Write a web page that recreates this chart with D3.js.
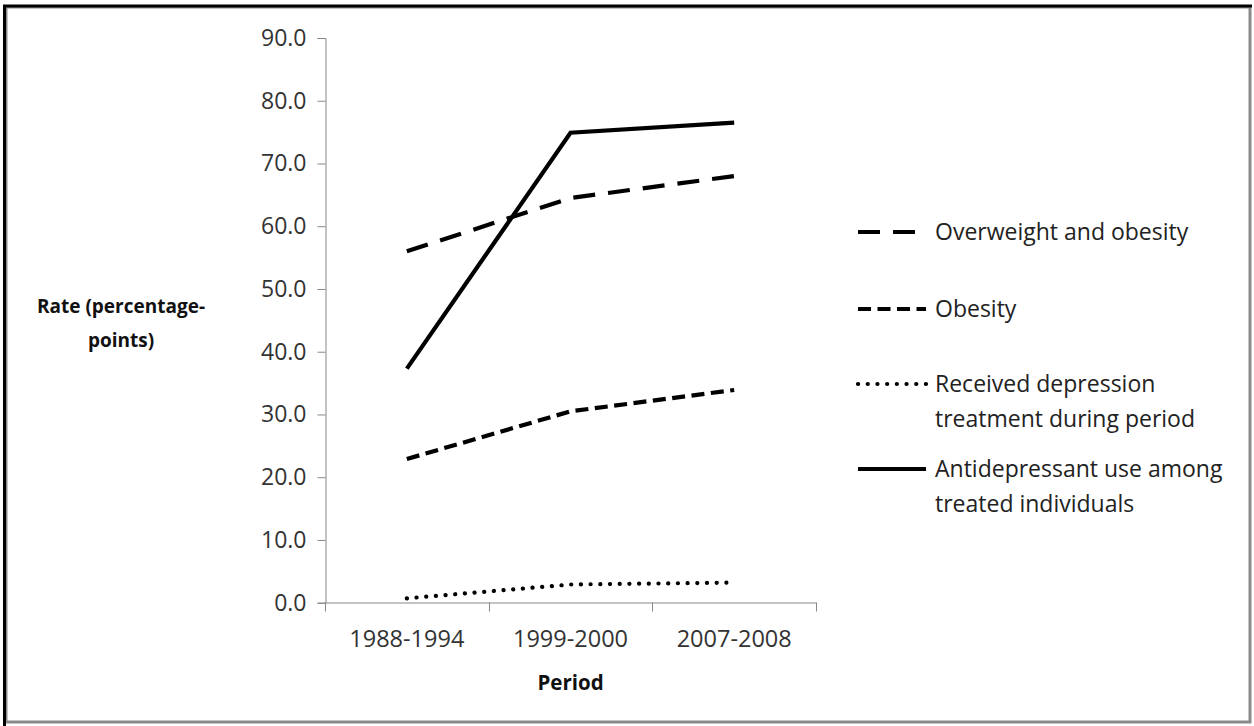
<!DOCTYPE html>
<html>
<head>
<meta charset="utf-8">
<script src="https://cdn.jsdelivr.net/npm/d3@7"></script>
<style>
  html, body { margin: 0; padding: 0; background: #fff; }
  svg { display: block; }
</style>
</head>
<body>
<svg id="chart" width="1254" height="726"></svg>
<script>
// ---- data ----
const categories = ["1988-1994", "1999-2000", "2007-2008"];
const overweightObesity = [56.0, 64.5, 68.0];
const obesity = [22.9, 30.5, 33.9];
const depressionTreatment = [0.7, 2.9, 3.2];
const antidepressantUse = [37.3, 74.9, 76.5];
const yTicks = [0, 10, 20, 30, 40, 50, 60, 70, 80, 90];
const seriesNames = [
  ["Overweight and obesity"],
  ["Obesity"],
  ["Received depression", "treatment during period"],
  ["Antidepressant use among", "treated individuals"]
];
const yAxisTitle = ["Rate (percentage-", "points)"];
const xAxisTitle = "Period";

// ---- styles ----
const seriesStyles = [
  { dash: "22,13", cap: "butt" },
  { dash: "13,6.5", cap: "butt" },
  { dash: "0.1,9.6", cap: "round" },
  { dash: null, cap: "butt" }
];
const seriesValues = [overweightObesity, obesity, depressionTreatment, antidepressantUse];

const svg = d3.select("#chart");
const font = "'Open Sans', sans-serif";

// frame
svg.append("rect").attr("x", 6).attr("y", 7).attr("width", 1244).attr("height", 715)
  .attr("fill", "#fff").attr("stroke", "#8a8a8a").attr("stroke-width", 3);
svg.append("line").attr("x1", 4.5).attr("x2", 4.5).attr("y1", 5).attr("y2", 726)
  .attr("stroke", "#000").attr("stroke-width", 3);
svg.append("line").attr("x1", 3).attr("x2", 1252).attr("y1", 6).attr("y2", 6)
  .attr("stroke", "#000").attr("stroke-width", 3);

// scales
const x = d3.scaleBand().domain(categories).range([325, 816]).padding(0);
const y = d3.scaleLinear().domain([0, 90]).range([602.7, 38]);
const cx = d => x(d) + x.bandwidth() / 2;

// y axis
const yAxis = d3.axisLeft(y).tickValues(yTicks).tickFormat(d3.format(".1f")).tickSize(8).tickPadding(11);
const gy = svg.append("g").attr("transform", "translate(325.5,0)").call(yAxis);
gy.select(".domain").attr("stroke", "#888");
gy.selectAll(".tick line").attr("stroke", "#888");
gy.selectAll(".tick text").attr("font-family", font).attr("font-size", 23).attr("fill", "#333");

// x axis
const xAxis = d3.axisBottom(x).tickSize(0).tickPadding(28);
const gx = svg.append("g").attr("transform", "translate(0,602.5)").call(xAxis);
gx.select(".domain").attr("stroke", "#888");
gx.selectAll(".tick text").attr("font-family", font).attr("font-size", 23.5).attr("fill", "#333");
// boundary ticks between categories
const bounds = categories.map(c => x(c)).concat([x(categories[categories.length - 1]) + x.bandwidth()]);
gx.selectAll(".bound").data(bounds).enter().append("line")
  .attr("x1", d => Math.round(d) + 0.5).attr("x2", d => Math.round(d) + 0.5)
  .attr("y1", 0).attr("y2", 9).attr("stroke", "#888");

// series lines
const line = d3.line().x((d, i) => cx(categories[i])).y(d => y(d));
seriesValues.forEach((vals, k) => {
  const st = seriesStyles[k];
  const p = svg.append("path").datum(vals).attr("d", line)
    .attr("fill", "none").attr("stroke", "#000").attr("stroke-width", 4.2)
    .attr("stroke-linecap", st.cap).attr("stroke-linejoin", "miter");
  if (st.dash) p.attr("stroke-dasharray", st.dash);
});

// axis titles
const yt = svg.append("text").attr("font-family", font).attr("font-weight", "bold")
  .attr("font-size", 19).attr("fill", "#111").attr("text-anchor", "middle");
yAxisTitle.forEach((t, i) => yt.append("tspan").attr("x", 121).attr("y", 313 + i * 34).text(t));
svg.append("text").attr("x", cx(categories[1])).attr("y", 690)
  .attr("font-family", font).attr("font-weight", "bold").attr("font-size", 20.5)
  .attr("fill", "#111").attr("text-anchor", "middle").text(xAxisTitle);

// legend
const legendY = [232, 309, 384, 469];
seriesNames.forEach((lines, k) => {
  const st = seriesStyles[k];
  const ly = legendY[k];
  const l = svg.append("line").attr("x1", 858).attr("x2", 926).attr("y1", ly).attr("y2", ly)
    .attr("stroke", "#000").attr("stroke-width", 4.2).attr("stroke-linecap", st.cap);
  if (st.dash) l.attr("stroke-dasharray", st.dash);
  const t = svg.append("text").attr("font-family", font).attr("font-size", 23).attr("fill", "#222");
  lines.forEach((s, i) => t.append("tspan").attr("x", 935).attr("y", ly + 8 + i * 35).text(s));
});
</script>
</body>
</html>
